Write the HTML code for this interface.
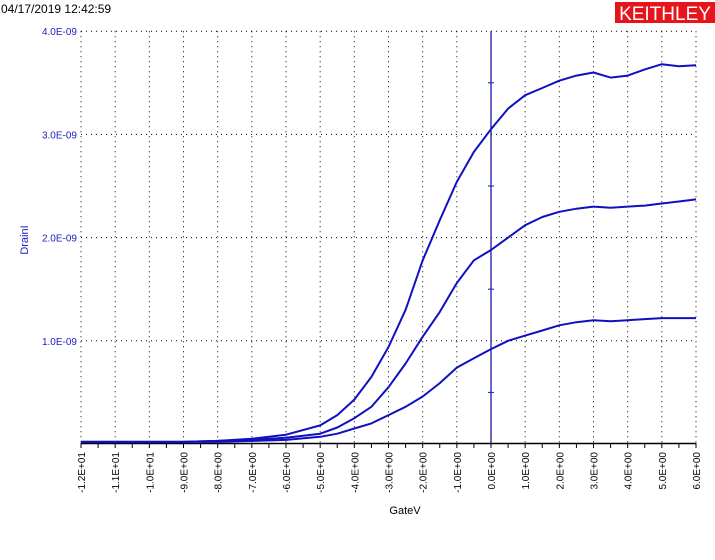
<!DOCTYPE html>
<html><head><meta charset="utf-8"><style>
body{margin:0;background:#fff;width:715px;height:555px;overflow:hidden;font-family:"Liberation Sans",Arial,sans-serif}
</style></head><body>
<svg id="chart" width="715" height="555" xmlns="http://www.w3.org/2000/svg" font-family="Liberation Sans, Arial, sans-serif">
<text x="1" y="13" font-size="12" fill="#000">04/17/2019 12:42:59</text>
<g><rect x="615" y="2" width="100" height="21" fill="#e8141c"/><text x="665" y="20" font-size="19" fill="#fff" text-anchor="middle">KEITHLEY</text></g>
<text transform="translate(28,240) rotate(-90)" font-size="11" fill="#2020c0" text-anchor="middle">DrainI</text>
<text x="405" y="514" font-size="11" fill="#000" text-anchor="middle">GateV</text>
<g id="grid"></g><g id="axes"></g><g id="series"></g>
</svg>
<script>
const xTicks=[-12,-11,-10,-9,-8,-7,-6,-5,-4,-3,-2,-1,0,1,2,3,4,5,6];
const xTickLabels=["-1.2E+01","-1.1E+01","-1.0E+01","-9.0E+00","-8.0E+00","-7.0E+00","-6.0E+00","-5.0E+00","-4.0E+00","-3.0E+00","-2.0E+00","-1.0E+00","0.0E+00","1.0E+00","2.0E+00","3.0E+00","4.0E+00","5.0E+00","6.0E+00"];
const yTicks=[1,2,3,4];
const yTickLabels=["1.0E-09","2.0E-09","3.0E-09","4.0E-09"];
const gateV=[-12,-11,-10,-9,-8,-7,-6,-5,-4.5,-4,-3.5,-3,-2.5,-2,-1.5,-1,-0.5,0,0.5,1,1.5,2,2.5,3,3.5,4,4.5,5,5.5,6];
const drainHigh=[0.02,0.02,0.02,0.02,0.03,0.05,0.09,0.18,0.28,0.43,0.65,0.94,1.3,1.78,2.17,2.54,2.83,3.05,3.25,3.38,3.45,3.52,3.57,3.6,3.55,3.57,3.63,3.68,3.66,3.67];
const drainMid=[0.02,0.02,0.02,0.02,0.03,0.04,0.06,0.1,0.16,0.25,0.36,0.55,0.78,1.04,1.28,1.56,1.78,1.88,2.0,2.12,2.2,2.25,2.28,2.3,2.29,2.3,2.31,2.33,2.35,2.37];
const drainLow=[0.02,0.02,0.02,0.02,0.02,0.03,0.04,0.07,0.1,0.15,0.2,0.28,0.36,0.46,0.59,0.74,0.83,0.92,1.0,1.05,1.1,1.15,1.18,1.2,1.19,1.2,1.21,1.22,1.22,1.22];
const NS="http://www.w3.org/2000/svg";
const X=v=>491+v*(615/18), Y=v=>444-v*103.2;
function mk(tag,attrs,parent){const e=document.createElementNS(NS,tag);for(const k in attrs)e.setAttribute(k,attrs[k]);parent.appendChild(e);return e;}
const grid=document.getElementById('grid'),axes=document.getElementById('axes'),series=document.getElementById('series');
xTicks.forEach((t,i)=>{
  if(t!==0){const l=mk('line',{x1:X(t),x2:X(t),y1:Y(4),y2:443,stroke:'#000','stroke-width':1,'stroke-dasharray':'1,4'},grid);
  
  }
  const tx=mk('text',{transform:`translate(${X(t)+4},452) rotate(-90)`,'font-size':10,fill:'#000','text-anchor':'end'},axes);
  tx.textContent=xTickLabels[i];
  
  
});
for(let v=-12;v<=6;v+=0.5){const tk=mk('line',{x1:X(v),x2:X(v),y1:443,y2:448,stroke:'#000'},axes);
  
  }
yTicks.forEach((t,i)=>{
  const l=mk('line',{x1:X(-12),x2:X(6),y1:Y(t),y2:Y(t),stroke:'#000','stroke-dasharray':'1,4'},grid);
  
  
  const tx=mk('text',{x:77,y:Y(t)+4,'font-size':10,fill:'#2020c0','text-anchor':'end'},axes);
  tx.textContent=yTickLabels[i];
  
  
});
const xa=mk('line',{x1:X(-12),x2:X(6),y1:443.5,y2:443.5,stroke:'#000','stroke-width':1.5},axes);


const za=mk('line',{x1:X(0),x2:X(0),y1:Y(4),y2:443,stroke:'#1a1aa0','stroke-width':1.3},axes);


for(let v=0.5;v<4;v+=1){const tk=mk('line',{x1:X(0)-3,x2:X(0)+3,y1:Y(v),y2:Y(v),stroke:'#1a1aa0'},axes);
  
  }
[[drainHigh,'series-high'],[drainMid,'series-mid'],[drainLow,'series-low']].forEach(([d,n])=>{
  const pts=gateV.map((g,i)=>X(g).toFixed(1)+','+Y(d[i]).toFixed(1)).join(' ');
  const p=mk('polyline',{points:pts,fill:'none',stroke:'#1010c0','stroke-width':2,'stroke-linejoin':'round'},series);
  
  
});
</script>
</body></html>
